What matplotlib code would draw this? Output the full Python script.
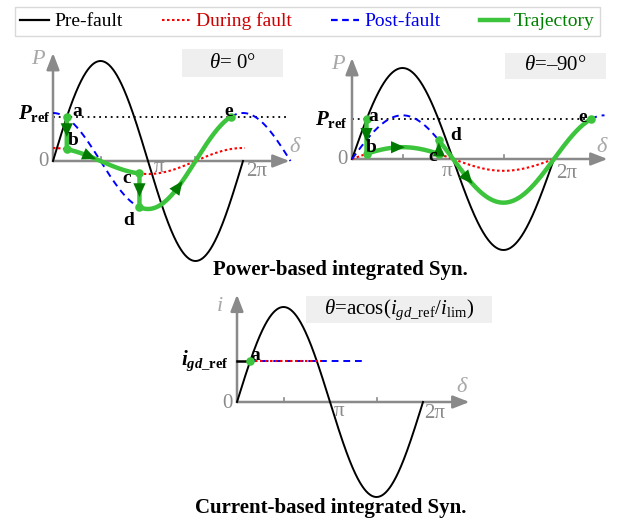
import numpy as np
import matplotlib.pyplot as plt
from matplotlib.lines import Line2D
from matplotlib.patches import Rectangle

plt.rcParams['font.family'] = 'Liberation Serif'
plt.rcParams['mathtext.fontset'] = 'custom'
plt.rcParams['mathtext.rm'] = 'Liberation Serif'
plt.rcParams['mathtext.it'] = 'Liberation Serif:italic'
plt.rcParams['mathtext.bf'] = 'Liberation Serif:bold'
plt.rcParams['mathtext.bfit'] = 'Liberation Serif:bold:italic'

PI = np.pi

# power-based synchronisation, two cases: theta = 0 deg and theta = -90 deg
theta_deg = [0, -90]
theta_text = [r'$\theta$= 0°', r'$\theta$=–90°']
p_pre_amp = [1.0, 1.0]          # pre-fault P-delta curve amplitude
p_ref = [0.44, 0.436]           # reference power
p_fault_amp = [0.13, 0.13]      # during-fault curve amplitude
p_post_amp = [0.48, 0.48]       # post-fault curve amplitude
delta_clear = [0.91 * PI, 0.86 * PI]     # fault clearing angle (c -> d)
fault_end = [2.02 * PI, 2.0 * PI]
pref_end = [2.46 * PI, None]             # None -> dotted line stops at e
# where the arrowheads sit: (a->b level, b->c angle, c->d level, d->e angle)
arrow_at = [(0.27, 0.44 * PI, -0.33, 1.35 * PI),
            (0.22, 0.51 * PI, 0.15, 1.18 * PI)]

# current-based synchronisation
i_pre_amp = 1.0
i_gd_ref = 0.43
i_fault_end = 0.9 * PI
i_post_end = 1.36 * PI

GREEN = '#3cc43c'
DKGREEN = '#007a00'
GRAY = '#8a8a8a'
LGRAY = '#a8a8a8'

W, H = 626, 525
fig = plt.figure(figsize=(W / 100, H / 100), dpi=100)


def px_axes(origin, px_pi, px_unit, xlim, ylim):
    # axes whose data units map to a fixed pixel scale around the origin
    x0 = origin[0] + xlim[0] / PI * px_pi
    x1 = origin[0] + xlim[1] / PI * px_pi
    ytop = origin[1] - ylim[1] * px_unit
    ybot = origin[1] - ylim[0] * px_unit
    ax = fig.add_axes([x0 / W, 1 - ybot / H, (x1 - x0) / W, (ybot - ytop) / H])
    ax.set_xlim(xlim)
    ax.set_ylim(ylim)
    ax.axis('off')
    return ax


def off(ax, xy, dx, dy, s, **kw):
    # text placed at a pixel offset (dx right, dy down) from a data point
    kw.setdefault('ha', 'center')
    kw.setdefault('va', 'center')
    ax.annotate(s, xy=xy, xytext=(dx * 0.72, -dy * 0.72), textcoords='offset points',
                annotation_clip=False, **kw)


def axes_arrows(ax, xend, ytop):
    ap = dict(arrowstyle='-|>,head_length=0.9,head_width=0.35', color=GRAY, lw=1.8,
              shrinkA=0, shrinkB=0, mutation_scale=11)
    ax.annotate('', xy=(xend, 0), xytext=(0, 0), arrowprops=ap, annotation_clip=False)
    ax.annotate('', xy=(0, ytop), xytext=(0, 0), arrowprops=ap, annotation_clip=False)
    for t in (0.5 * PI, 1.5 * PI):
        ax.plot([t, t], [0, 0.045], color=GRAY, lw=1.2)


def head(ax, x0, y0, x1, y1):
    ax.annotate('', xy=(x1, y1), xytext=(x0, y0), annotation_clip=False,
                arrowprops=dict(arrowstyle='-|>,head_length=0.9,head_width=0.4',
                                color=DKGREEN, lw=0, shrinkA=0, shrinkB=0,
                                mutation_scale=11), zorder=6)


def power_panel(k, origin, px_pi, px_unit, xend, ytop, lbl):
    ax = px_axes(origin, px_pi, px_unit, (-0.6, 2.75 * PI), (-1.12, 1.2))
    th = np.radians(theta_deg[k])
    pref, af, ap = p_ref[k], p_fault_amp[k], p_post_amp[k]
    pre = lambda d: p_pre_amp[k] * np.sin(d)
    fault = lambda d: af * np.cos(d + th)
    post = lambda d: ap * np.cos(d + th)

    da = np.arcsin(pref / p_pre_amp[k])
    dc = delta_clear[k]
    de = 2 * PI - np.arccos(pref / ap) - th

    axes_arrows(ax, xend, ytop)

    d = np.linspace(0, 2 * PI, 400)
    ax.plot(d, pre(d), color='k', lw=1.4, zorder=3)
    d = np.linspace(0, fault_end[k], 300)
    ax.plot(d, fault(d), color='red', ls=(0, (1.2, 1.2)), lw=1.5, zorder=3)
    for lo, hi in ((0, dc), (de, 2.5 * PI)):
        d = np.linspace(lo, hi, 200)
        ax.plot(d, post(d), color='blue', ls=(0, (3.5, 2.5)), lw=1.4, zorder=3)
    ax.plot([0, pref_end[k] or de], [pref, pref], color='k', ls=(0, (1, 2.2)), lw=1.3, zorder=2)

    # trajectory a -> b -> c -> d -> e
    d1 = np.linspace(da, dc, 150)
    d2 = np.linspace(dc, de, 300)
    tx = np.concatenate([[da], d1, d2])
    ty = np.concatenate([[pref], fault(d1), post(d2)])
    ax.plot(tx, ty, color=GREEN, lw=3.2, zorder=4, solid_joinstyle='round', solid_capstyle='round')
    pts = [(da, pref), (da, fault(da)), (dc, fault(dc)), (dc, post(dc)), (de, pref)]
    ax.scatter(*zip(*pts), s=38, color=GREEN, zorder=5, linewidths=0)

    ya, xb, yc, xd = arrow_at[k]
    sab = np.sign(fault(da) - pref)
    head(ax, da, ya - sab * 0.06, da, ya + sab * 0.03)
    head(ax, xb - 0.12, fault(xb - 0.12), xb + 0.04, fault(xb + 0.04))
    scd = np.sign(post(dc) - fault(dc))
    head(ax, dc, yc - scd * 0.06, dc, yc + scd * 0.03)
    head(ax, xd - 0.12, post(xd - 0.12), xd + 0.04, post(xd + 0.04))

    for name, p, (dx, dy) in zip('abcde', pts, lbl):
        off(ax, p, dx, dy, name, fontsize=14, fontweight='bold', zorder=7)
    return ax


lbl1 = [(10, -6), (6, -9), (-13, 5), (-11, 13), (-2, -5)]
ax1 = power_panel(0, (53, 161), 95, 100, 2.49 * PI, 1.08, lbl1)
off(ax1, (0, 1.08), -14, 7, r'$P$', fontsize=16, color=LGRAY)
off(ax1, (0, p_ref[0]), -2, -4, r'$\mathbfit{P}_{\mathbf{ref}}$', fontsize=15, ha='right')
off(ax1, (0, 0), -4, 0, '0', fontsize=15, color=GRAY, ha='right')
off(ax1, (PI, 0), 11, 7, 'π', fontsize=15, color=GRAY)
off(ax1, (2 * PI, 0), 14, 11, '2π', fontsize=15, color=GRAY)
off(ax1, (2.49 * PI, 0), 6, -13, r'$\delta$', fontsize=16, color=LGRAY)

lbl2 = [(7, -3), (5, -6), (-6, 3), (17, -5), (-8, -2)]
ax2 = power_panel(1, (352, 159), 101, 91, 2.53 * PI, 1.11, lbl2)
off(ax2, (0, 1.11), -13, 7, r'$P$', fontsize=16, color=LGRAY)
off(ax2, (0, p_ref[1]), -4, 0, r'$\mathbfit{P}_{\mathbf{ref}}$', fontsize=15, ha='right')
off(ax2, (0, 0), -4, 1, '0', fontsize=15, color=GRAY, ha='right')
off(ax2, (PI, 0), -6, 13, 'π', fontsize=15, color=GRAY)
off(ax2, (2 * PI, 0), 13, 14, '2π', fontsize=15, color=GRAY)
off(ax2, (2.53 * PI, 0), -5, -12, r'$\delta$', fontsize=16, color=LGRAY)

# current-based panel
ax3 = px_axes((237, 402), 93, 95, (-0.6, 2.75 * PI), (-1.12, 1.2))
axes_arrows(ax3, 2.5 * PI, 1.13)
d = np.linspace(0, 2 * PI, 400)
ax3.plot(d, i_pre_amp * np.sin(d), color='k', lw=1.4, zorder=3)
ia = np.arcsin(i_gd_ref / i_pre_amp)
ax3.plot([0, ia], [i_gd_ref, i_gd_ref], color='k', lw=1.8, zorder=3)
ax3.plot([ia, i_post_end], [i_gd_ref, i_gd_ref], color='blue', ls=(0, (3.5, 2.5)), lw=1.4, zorder=3)
ax3.plot([ia, i_fault_end], [i_gd_ref, i_gd_ref], color='red', ls=(0, (1.2, 1.2)), lw=1.5, zorder=3)
ax3.scatter([ia], [i_gd_ref], s=38, color=GREEN, zorder=5, linewidths=0)
off(ax3, (ia, i_gd_ref), 5, -6, 'a', fontsize=14, fontweight='bold')
off(ax3, (0, 1.13), -17, 12, r'$i$', fontsize=16, color=LGRAY)
off(ax3, (0, i_gd_ref), -8, 0, r'$\mathbfit{i}_{\mathbfit{gd}\mathbf{\_ref}}$', fontsize=15, ha='right')
off(ax3, (0, 0), -4, 1, '0', fontsize=15, color=GRAY, ha='right')
off(ax3, (PI, 0), 9, 10, 'π', fontsize=15, color=GRAY)
off(ax3, (2 * PI, 0), 12, 11, '2π', fontsize=15, color=GRAY)
off(ax3, (2.5 * PI, 0), -7, -14, r'$\delta$', fontsize=16, color=LGRAY)

# grey formula boxes
boxes = [((182, 49, 101, 28), theta_text[0]),
         ((505, 53, 101, 26), theta_text[1]),
         ((306, 296, 186, 27), r'$\theta$=acos($i_{gd\_\mathrm{ref}}$/$i_{\mathrm{lim}}$)')]
for (x, y, w, h), s in boxes:
    fig.add_artist(Rectangle((x / W, 1 - (y + h) / H), w / W, h / H, transform=fig.transFigure,
                             facecolor='#efefef', edgecolor='none', zorder=0))
    fig.text((x + w / 2) / W, 1 - (y + h / 2) / H, s, ha='center', va='center', fontsize=15)

fig.text(340 / W, 1 - 270 / H, 'Power-based integrated Syn.', ha='center', va='center',
         fontsize=15, fontweight='bold')
fig.text(331 / W, 1 - 508 / H, 'Current-based integrated Syn.', ha='center', va='center',
         fontsize=15, fontweight='bold')

handles = [Line2D([], [], color='k', lw=1.6),
           Line2D([], [], color='red', ls=(0, (1.2, 1.2)), lw=1.5),
           Line2D([], [], color='blue', ls=(0, (3, 2)), lw=1.6),
           Line2D([], [], color=GREEN, lw=3.2)]
labels = ['Pre-fault', 'During fault', 'Post-fault', 'Trajectory']
leg = fig.legend(handles, labels, loc='center', bbox_to_anchor=(307.5 / W, 1 - 21.5 / H), ncol=4,
                 frameon=True, fancybox=False, edgecolor='#d0d0d0', fontsize=14,
                 handlelength=1.45, handletextpad=0.3, columnspacing=2.0, borderpad=0.3,
                 borderaxespad=0)
leg.get_frame().set_linewidth(1.0)
for t, c in zip(leg.get_texts(), ['k', '#cc0000', '#0000ee', '#008000']):
    t.set_color(c)

fig.savefig('out.png', dpi=100)
